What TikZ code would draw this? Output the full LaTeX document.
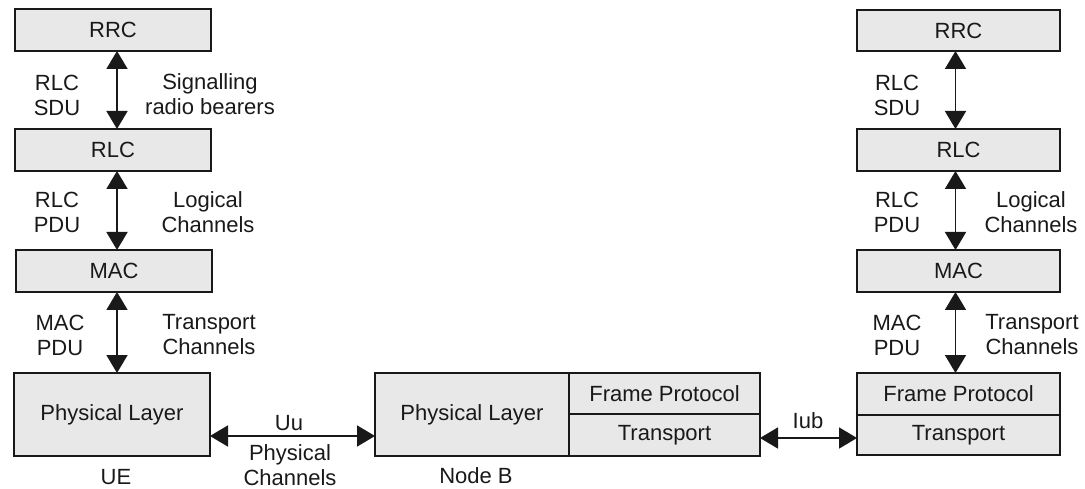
\documentclass[tikz,border=0pt]{standalone}
\usepackage{fontspec}
\setmainfont{Liberation Sans}
\usetikzlibrary{arrows.meta}
\definecolor{boxfill}{RGB}{232,232,232}
\definecolor{ink}{RGB}{25,25,25}
\begin{document}
\begin{tikzpicture}[x=1pt,y=-1pt,
  every node/.style={font=\fontsize{22}{25}\selectfont, text=ink},
  box/.style={draw=ink, line width=1.5pt, fill=boxfill, anchor=north west, inner sep=0pt, outer sep=0pt},
  lbl/.style={align=center, inner sep=0pt},
  arr/.style={draw=ink, line width=1.8pt, {Triangle[length=18pt,width=21pt]}-{Triangle[length=18pt,width=21pt]}}
]
\useasboundingbox (0,0) rectangle (1085,489);
% ---- UE column
\node[box, minimum width=196pt, minimum height=42pt] (rrcL) at (15,9) {RRC};
\node[box, minimum width=196pt, minimum height=42pt] (rlcL) at (15,129) {RLC};
\node[box, minimum width=196pt, minimum height=42pt] (macL) at (16,250) {MAC};
\node[box, minimum width=196pt, minimum height=83pt] (phyL) at (14,373) {Physical Layer};
\draw[arr] ([xshift=4pt]rrcL.south) -- ([xshift=4pt]rlcL.north);
\draw[arr] ([xshift=4pt]rlcL.south) -- ([xshift=4pt]rlcL.south |- macL.north);
\draw[arr] ([xshift=3pt]macL.south) -- ([xshift=3pt]macL.south |- phyL.north);
\node[lbl] (sduL) at (57,95) {RLC\\SDU};
\node[lbl] (srb) at (210,94) {Signalling\\radio bearers};
\node[lbl] (pduL) at (57,212) {RLC\\PDU};
\node[lbl] (logL) at (208,212) {Logical\\Channels};
\node[lbl] (macpduL) at (60,335) {MAC\\PDU};
\node[lbl] (trL) at (209,335) {Transport\\Channels};
\node[lbl] (ue) at (116,477) {UE};
% ---- Node B
\node[box, minimum width=194pt, minimum height=83pt] (phyB) at (375,373) {Physical Layer};
\node[box, minimum width=191pt, minimum height=41pt] (fpB) at (569,373) {Frame Protocol};
\node[box, minimum width=191pt, minimum height=42pt] (trB) at (569,414) {Transport};
\node[lbl] (nodeb) at (476,476) {Node B};
% ---- RNC column
\node[box, minimum width=203pt, minimum height=41pt] (rrcR) at (857,10) {RRC};
\node[box, minimum width=203pt, minimum height=42pt] (rlcR) at (857,129) {RLC};
\node[box, minimum width=203pt, minimum height=42pt] (macR) at (857,250) {MAC};
\node[box, minimum width=203pt, minimum height=42pt] (fpR) at (857,373) {Frame Protocol};
\node[box, minimum width=203pt, minimum height=40pt] (trR) at (857,415) {Transport};
\draw[arr] ([xshift=-3pt]rrcR.south) -- ([xshift=-3pt]rlcR.north);
\draw[arr] ([xshift=-3pt]rlcR.south) -- ([xshift=-3pt]macR.north);
\draw[arr] ([xshift=-3pt]macR.south) -- ([xshift=-3pt]fpR.north);
\node[lbl] (sduR) at (897,95) {RLC\\SDU};
\node[lbl] (pduR) at (897,212) {RLC\\PDU};
\node[lbl] (logR) at (1031,212) {Logical\\Channels};
\node[lbl] (macpduR) at (897,335) {MAC\\PDU};
\node[lbl] (trRl) at (1032,335) {Transport\\Channels};
% ---- horizontal links
\draw[arr] ([yshift=-21.5pt]phyL.east) -- ([yshift=-21.5pt]phyL.east -| phyB.west);
\node[lbl] (uu) at (289,423) {Uu};
\node[lbl] (phch) at (290,465) {Physical\\Channels};
\draw[arr] ([yshift=-3pt]trB.east) -- ([yshift=-3pt]trB.east -| trR.west);
\node[lbl] (iub) at (808,421) {Iub};
\end{tikzpicture}
\end{document}
